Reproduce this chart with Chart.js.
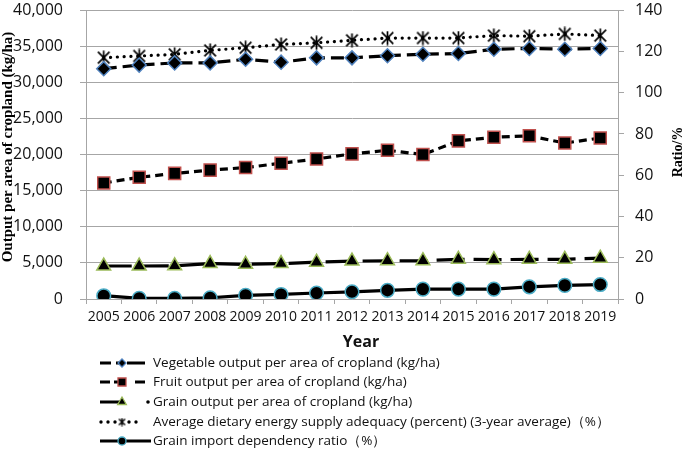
<!DOCTYPE html>
<html>
<head>
<meta charset="utf-8">
<script src="https://cdn.jsdelivr.net/npm/chart.js@4"></script>
<style>
  html, body { margin: 0; padding: 0; background: #fff; }
  #wrap { width: 685px; height: 449px; }
</style>
</head>
<body>
<div id="wrap"><canvas id="c" width="685" height="449"></canvas></div>
<script>
const years = ['2005','2006','2007','2008','2009','2010','2011','2012','2013','2014','2015','2016','2017','2018','2019'];
const vegetable = [31900, 32400, 32700, 32700, 33200, 32800, 33400, 33400, 33700, 33900, 34000, 34600, 34700, 34600, 34700];
const fruit = [16070, 16850, 17400, 17850, 18200, 18800, 19400, 20100, 20600, 20000, 21900, 22400, 22600, 21600, 22300];
const grain = [4570, 4570, 4600, 4900, 4800, 4900, 5100, 5250, 5300, 5300, 5500, 5450, 5500, 5500, 5650];
const energy = [117, 117.8, 118.6, 120.5, 121.8, 123.4, 124.2, 125.4, 126.5, 126.5, 126.5, 127.7, 127.4, 128.5, 127.7];
const importRatio = [1.6, 0.3, 0.3, 0.6, 1.8, 2.2, 2.9, 3.5, 4.2, 4.8, 4.8, 4.8, 5.9, 6.6, 7.0];

const seriesNames = [
  'Vegetable output per area of cropland (kg/ha)',
  'Fruit output per area of cropland (kg/ha)',
  'Grain output per area of cropland (kg/ha)',
  'Average dietary energy supply adequacy (percent) (3-year average)\uFF08%\uFF09',
  'Grain import dependency ratio\uFF08%\uFF09'
];
const leftTicks = [0, 5000, 10000, 15000, 20000, 25000, 30000, 35000, 40000];
const rightTicks = [0, 20, 40, 60, 80, 100, 120, 140];

function starCanvas(s, lw) {
  const c = document.createElement('canvas');
  c.width = s; c.height = s;
  const g = c.getContext('2d');
  g.strokeStyle = '#000'; g.lineWidth = lw; g.lineCap = 'butt';
  const m = lw;
  g.beginPath();
  g.moveTo(m, m); g.lineTo(s - m, s - m);
  g.moveTo(s - m, m); g.lineTo(m, s - m);
  g.moveTo(s / 2, 0.5); g.lineTo(s / 2, s - 0.5);
  g.stroke();
  return c;
}
const bigStar = starCanvas(15, 1.7);
const smallStar = starCanvas(9, 1.4);

const GRID = '#a6a6a6';
const TICKFONT = { family: 'Open Sans', size: 16 };

const datasets = [
  { label: seriesNames[0], data: vegetable, yAxisID: 'y', borderColor: '#000', borderWidth: 3.2,
    borderDash: [13, 6], pointStyle: 'rectRot', pointRadius: 7, pointBackgroundColor: '#000',
    pointBorderColor: '#4f81bd', pointBorderWidth: 1.5, tension: 0 },
  { label: seriesNames[1], data: fruit, yAxisID: 'y', borderColor: '#000', borderWidth: 3.2,
    borderDash: [8, 5], pointStyle: 'rect', pointRadius: 8.5, pointBackgroundColor: '#000',
    pointBorderColor: '#c0504d', pointBorderWidth: 1.5, tension: 0 },
  { label: seriesNames[2], data: grain, yAxisID: 'y', borderColor: '#000', borderWidth: 3.2,
    borderDash: [28, 9], pointStyle: 'triangle', pointRadius: 8, pointBackgroundColor: '#000',
    pointBorderColor: '#9bbb59', pointBorderWidth: 1.5, tension: 0 },
  { label: seriesNames[3], data: energy, yAxisID: 'y1', borderColor: '#000', borderWidth: 3.2,
    borderDash: [0.1, 6.7], borderCapStyle: 'round', pointStyle: bigStar, pointRadius: 7, tension: 0 },
  { label: seriesNames[4], data: importRatio, yAxisID: 'y1', borderColor: '#000', borderWidth: 3.2,
    pointStyle: 'circle', pointRadius: 6.8, pointBackgroundColor: '#000',
    pointBorderColor: '#4bacc6', pointBorderWidth: 1.5, tension: 0 }
];

function drawMarker(ctx, i, x, y) {
  ctx.save();
  ctx.fillStyle = '#000';
  ctx.lineWidth = 1.3;
  if (i === 0) {
    const r = 4;
    ctx.beginPath(); ctx.moveTo(x, y - r); ctx.lineTo(x + r, y); ctx.lineTo(x, y + r); ctx.lineTo(x - r, y); ctx.closePath();
    ctx.strokeStyle = '#4f81bd'; ctx.fill(); ctx.stroke();
  } else if (i === 1) {
    const h = 4;
    ctx.beginPath(); ctx.rect(x - h, y - h, 2 * h, 2 * h);
    ctx.strokeStyle = '#c0504d'; ctx.fill(); ctx.stroke();
  } else if (i === 2) {
    const r = 5;
    ctx.beginPath(); ctx.moveTo(x, y - r); ctx.lineTo(x + r * 0.866, y + r * 0.5); ctx.lineTo(x - r * 0.866, y + r * 0.5); ctx.closePath();
    ctx.strokeStyle = '#9bbb59'; ctx.fill(); ctx.stroke();
  } else if (i === 3) {
    ctx.drawImage(smallStar, x - smallStar.width / 2, y - smallStar.height / 2);
  } else {
    ctx.beginPath(); ctx.arc(x, y, 4, 0, Math.PI * 2);
    ctx.strokeStyle = '#4bacc6'; ctx.fill(); ctx.stroke();
  }
  ctx.restore();
}

const extras = {
  id: 'extras',
  afterDraw(chart) {
    const ctx = chart.ctx;
    ctx.save();
    ctx.fillStyle = '#000';
    ctx.font = 'bold 15px "Liberation Serif"';
    ctx.textAlign = 'center'; ctx.textBaseline = 'middle';
    ctx.save(); ctx.translate(8, 147); ctx.rotate(-Math.PI / 2); ctx.fillText('Output per area of cropland (kg/ha)', 0, 0); ctx.restore();
    ctx.font = 'bold 14px "Liberation Serif"';
    ctx.save(); ctx.translate(678, 152); ctx.rotate(-Math.PI / 2); ctx.fillText('Ratio/%', 0, 0); ctx.restore();
    ctx.font = 'bold 16px "Open Sans"';
    ctx.fillStyle = '#111';
    ctx.fillText('Year', 361, 342);
    const rows = [363, 382, 402, 422, 441];
    const x0 = 100, x1 = 145, xm = 122;
    ctx.font = '13.5px "Open Sans"';
    ctx.textAlign = 'left';
    datasets.forEach((d, i) => {
      const y = rows[i];
      ctx.save();
      ctx.strokeStyle = '#000'; ctx.lineWidth = 3;
      if (i === 0) { ctx.beginPath(); ctx.moveTo(x0, y); ctx.lineTo(x0 + 11, y); ctx.moveTo(xm + 5, y); ctx.lineTo(x1, y); ctx.moveTo(xm - 6, y); ctx.lineTo(xm, y); ctx.stroke(); }
      else if (i === 1) { ctx.beginPath(); ctx.moveTo(x0, y); ctx.lineTo(x0 + 10, y); ctx.moveTo(x0 + 14, y); ctx.lineTo(xm, y); ctx.moveTo(x1 - 10, y); ctx.lineTo(x1, y); ctx.stroke(); }
      else if (i === 2) { ctx.beginPath(); ctx.moveTo(x0, y); ctx.lineTo(xm, y); ctx.stroke(); ctx.beginPath(); ctx.arc(x1 + 3, y, 1.8, 0, Math.PI * 2); ctx.fillStyle = '#000'; ctx.fill(); }
      else if (i === 3) { ctx.fillStyle = '#000'; [101, 108, 115, 129, 136].forEach(px => { ctx.beginPath(); ctx.arc(px, y, 1.7, 0, Math.PI * 2); ctx.fill(); }); }
      else { ctx.beginPath(); ctx.moveTo(x0, y); ctx.lineTo(x1 + 6, y); ctx.stroke(); }
      ctx.restore();
      drawMarker(ctx, i, xm, y);
      ctx.fillStyle = '#111';
      ctx.textBaseline = 'middle';
      ctx.fillText(d.label, 153, y);
    });
    ctx.restore();
  }
};

new Chart(document.getElementById('c'), {
  type: 'line',
  data: { labels: years, datasets },
  options: {
    responsive: false,
    animation: false,
    devicePixelRatio: 1,
    layout: { padding: { top: 7, left: 0, right: 0, bottom: 0 } },
    plugins: { legend: { display: false }, tooltip: { enabled: false } },
    scales: {
      x: {
        offset: true,
        grid: { offset: true, drawOnChartArea: false, drawTicks: true, tickLength: 5, color: GRID },
        border: { display: true, color: GRID, width: 1 },
        ticks: { font: { family: 'Open Sans', size: 14 }, color: '#111', padding: 5, maxRotation: 0, autoSkip: false },
        afterFit(s) { s.height = 150; s.paddingLeft = 0; s.paddingRight = 0; }
      },
      y: {
        position: 'left', min: 0, max: 40000,
        afterBuildTicks(s) { s.ticks = leftTicks.map(v => ({ value: v })); },
        grid: { color: GRID, lineWidth: 1, tickLength: 6 },
        border: { display: true, color: GRID, width: 1 },
        ticks: { font: TICKFONT, color: '#111', padding: 17,
          callback: v => Number(v).toLocaleString('en-US') },
        afterFit(s) { s.width = 86; s.paddingTop = 0; s.paddingBottom = 0; }
      },
      y1: {
        position: 'right', min: 0, max: 140,
        afterBuildTicks(s) { s.ticks = rightTicks.map(v => ({ value: v })); },
        grid: { drawOnChartArea: false, color: GRID, tickLength: 6 },
        border: { display: true, color: GRID, width: 1 },
        ticks: { font: TICKFONT, color: '#111', padding: 11 },
        afterFit(s) { s.width = 67; s.paddingTop = 0; s.paddingBottom = 0; }
      }
    }
  },
  plugins: [extras]
});
</script>
</body>
</html>
